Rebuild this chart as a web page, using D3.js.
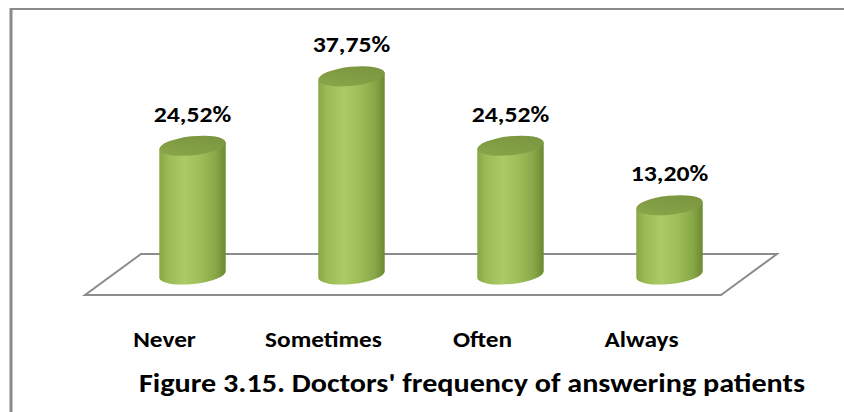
<!DOCTYPE html>
<html>
<head>
<meta charset="utf-8">
<script src="https://cdn.jsdelivr.net/npm/d3@7"></script>
<style>
  html, body { margin: 0; padding: 0; background: #fff; }
  svg { display: block; }
  text { font-family: Carlito, Lato, "Open Sans", sans-serif; font-weight: bold; fill: #000; }
</style>
</head>
<body>
<svg id="chart" width="844" height="412"></svg>
<script>
// Answers to "How often do doctors answer patients' questions?"
const categories = ["Never", "Sometimes", "Often", "Always"];
const values = [24.52, 37.75, 24.52, 13.20];
const valueLabels = ["24,52%", "37,75%", "24,52%", "13,20%"];
const title = "Figure 3.15. Doctors' frequency of answering patients";

const svg = d3.select("#chart");
const W = 844, H = 412;

// Frame: top and left edges of the figure box
svg.append("line").attr("x1", 10).attr("x2", W).attr("y1", 9).attr("y2", 9)
  .attr("stroke", "#8a8a8a").attr("stroke-width", 2);
svg.append("line").attr("x1", 11).attr("x2", 11).attr("y1", 8).attr("y2", H)
  .attr("stroke", "#8a8a8a").attr("stroke-width", 3);

// Scales: categories across the middle of the floor, values up from the floor
const x = d3.scaleBand().domain(categories).range([113, 749]).padding(0);
const y = d3.scaleLinear().domain([0, 40]).range([274.5, 64.5]);

// Perspective depth of the floor (half-depth offsets)
const dx = 28, dy = 20.5;
const floorY = y(0);
const x0 = x.range()[0], x1 = x.range()[1];

svg.append("path")
  .attr("d", `M${x0 + dx},${floorY - dy} L${x1 + dx},${floorY - dy} L${x1 - dx},${floorY + dy} L${x0 - dx},${floorY + dy} Z`)
  .attr("fill", "#fff").attr("stroke", "#8c8c8c").attr("stroke-width", 2);

// Gradients for the cylinder body and cap
const defs = svg.append("defs");
const body = defs.append("linearGradient").attr("id", "body").attr("x1", "0").attr("x2", "1").attr("y1", "0").attr("y2", "0");
[["0%", "#88a646"], ["12%", "#9aba54"], ["38%", "#aacb66"], ["62%", "#9ebe5a"], ["85%", "#88a747"], ["100%", "#6b8a31"]]
  .forEach(([o, c]) => body.append("stop").attr("offset", o).attr("stop-color", c));
const cap = defs.append("linearGradient").attr("id", "cap").attr("x1", "0").attr("x2", "1").attr("y1", "1").attr("y2", "0");
[["0%", "#8ba84b"], ["100%", "#77923d"]]
  .forEach(([o, c]) => cap.append("stop").attr("offset", o).attr("stop-color", c));

const rx = x.bandwidth() * 0.21, ry = 9.5, rot = -6;
const th = rot * Math.PI / 180;
const ex = rx * Math.cos(th), ey = rx * Math.sin(th);

// Bold text, drawn slightly wide
function label(sel, px, py, size, sx, str) {
  sel.append("text")
    .attr("transform", `translate(${px},${py}) scale(${sx},1)`)
    .attr("text-anchor", "middle").attr("font-size", size)
    .text(str);
}

const g = svg.append("g");
categories.forEach((c, i) => {
  const cx = x(c) + x.bandwidth() / 2;
  const yb = y(0), yt = y(values[i]);
  g.append("path")
    .attr("d", `M${cx - ex},${yt - ey} L${cx - ex},${yb - ey} A${rx},${ry} ${rot} 0 0 ${cx + ex},${yb + ey} L${cx + ex},${yt + ey} Z`)
    .attr("fill", "url(#body)");
  g.append("ellipse")
    .attr("cx", cx).attr("cy", yt).attr("rx", rx).attr("ry", ry)
    .attr("transform", `rotate(${rot},${cx},${yt})`)
    .attr("fill", "url(#cap)");
  label(g, cx, yt - 24, 22, 1.17, valueLabels[i]);
  label(g, cx - dx, floorY + 72, 22, 1.15, c);
});

label(svg, 472, 392, 26, 1.16, title);
</script>
</body>
</html>
